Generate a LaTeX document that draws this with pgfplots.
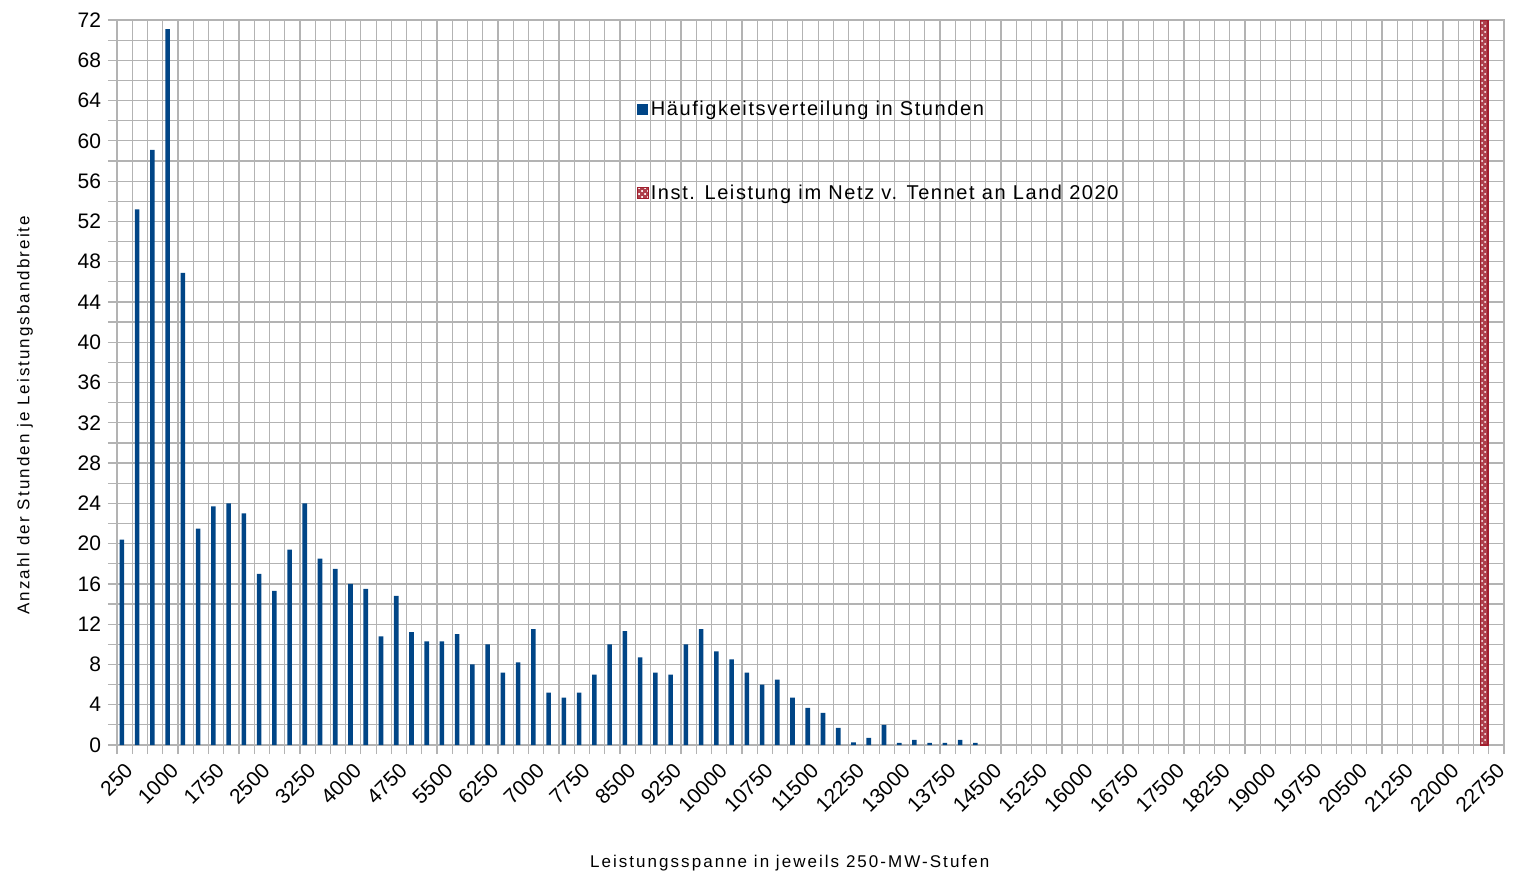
\documentclass[border=0pt]{standalone}
\usepackage{fontspec}
\setmainfont{Liberation Sans}
\newfontfamily\legendfont[LetterSpace=8]{Liberation Sans}
\newfontfamily\labelfont[LetterSpace=12]{Liberation Sans}
\usepackage{pgfplots}
\pgfplotsset{compat=1.18}
\usetikzlibrary{patterns}

\definecolor{barblue}{RGB}{0,69,134}
\definecolor{gridgray}{RGB}{179,179,179}
\definecolor{patred}{RGB}{160,30,45}

\begin{document}
\begin{tikzpicture}
\path[use as bounding box] (-58.5pt,-65pt) rectangle (698pt,372.5pt);
\begin{axis}[
  scale only axis, width=693.5pt, height=362.5pt,
  xmin=125, xmax=22875, ymin=0, ymax=72,
  axis line style={gridgray, line width=0.6pt},
  grid style={gridgray, line width=0.6pt},
  minor grid style={gridgray, line width=0.6pt},
  tick style={gridgray, line width=0.6pt},
  tick align=outside, major tick length=4.5pt, minor tick length=4.5pt,
  xtick pos=bottom, ytick pos=left,
  scaled x ticks=false,
  xtick={125,375,...,22875}, xticklabels={},
  xmajorgrids,
  extra x ticks={250,1000,...,22750},
  extra x tick labels={250,1000,1750,2500,3250,4000,4750,5500,6250,7000,7750,8500,9250,10000,10750,11500,12250,13000,13750,14500,15250,16000,16750,17500,18250,19000,19750,20500,21250,22000,22750},
  extra x tick style={grid=none, major tick length=0pt},
  xticklabel style={rotate=45, anchor=north east, font=\fontsize{10.5}{12}\selectfont, xshift=-2.8pt, yshift=-2.1pt},
  ytick={0,4,...,72}, minor ytick={2,6,...,70},
  ymajorgrids, yminorgrids,
  yticklabel style={font=\fontsize{10.5}{12}\selectfont},
  /pgf/number format/assume math mode=true,
  xlabel={Leistungsspanne in jeweils 250-MW-Stufen},
  xlabel style={at={(axis description cs:0.485,-0.163)}, anchor=center, font=\labelfont\fontsize{8.5}{10}\selectfont},
  ylabel={Anzahl der Stunden je Leistungsbandbreite},
  ylabel style={at={(axis description cs:-0.0663,0.455)}, anchor=center, font=\labelfont\fontsize{8.5}{10}\selectfont},
  legend style={at={(axis description cs:0.37,0.897)}, anchor=north west, draw=none, fill=none,
    row sep=31pt, font=\legendfont\fontsize{10}{12}\selectfont, nodes={inner sep=1pt}},
  legend cell align=left,
]

\addplot[ybar, bar width=75, bar shift=-45, fill=barblue, draw=none,
  legend image code/.code={\fill[barblue] (0pt,-2.8pt) rectangle (5.6pt,2.8pt);}]
coordinates {
(250,20.4) (500,53.2) (750,59.1) (1000,71.1) (1250,46.9)
(1500,21.5) (1750,23.7) (2000,24.0) (2250,23.0) (2500,17.0)
(2750,15.3) (3000,19.4) (3250,24.0) (3500,18.5) (3750,17.5)
(4000,16.0) (4250,15.5) (4500,10.8) (4750,14.8) (5000,11.2)
(5250,10.3) (5500,10.3) (5750,11.0) (6000,8.0) (6250,10.0)
(6500,7.2) (6750,8.2) (7000,11.5) (7250,5.2) (7500,4.7)
(7750,5.2) (8000,7.0) (8250,10.0) (8500,11.3) (8750,8.7)
(9000,7.2) (9250,7.0) (9500,10.0) (9750,11.5) (10000,9.3)
(10250,8.5) (10500,7.2) (10750,6.0) (11000,6.5) (11250,4.7)
(11500,3.7) (11750,3.2) (12000,1.7) (12250,0.25) (12500,0.7)
(12750,2.0) (13000,0.2) (13250,0.5) (13500,0.2) (13750,0.2)
(14000,0.5) (14250,0.2)
};
\addlegendentry{Häufigkeitsverteilung in Stunden}

\addplot[ybar, bar width=125, bar shift=50, fill=patred!85, draw=patred, line width=0.6pt,
  postaction={pattern=crosshatch dots, pattern color=white},
  legend image code/.code={\filldraw[fill=patred!85, draw=patred, line width=0.5pt, postaction={pattern=crosshatch dots, pattern color=white}] (0pt,-2.8pt) rectangle (5.6pt,2.8pt);}]
coordinates {(22500,72)};
\addlegendentry{Inst. Leistung im Netz v. Tennet an Land 2020}

\end{axis}
\end{tikzpicture}
\end{document}
